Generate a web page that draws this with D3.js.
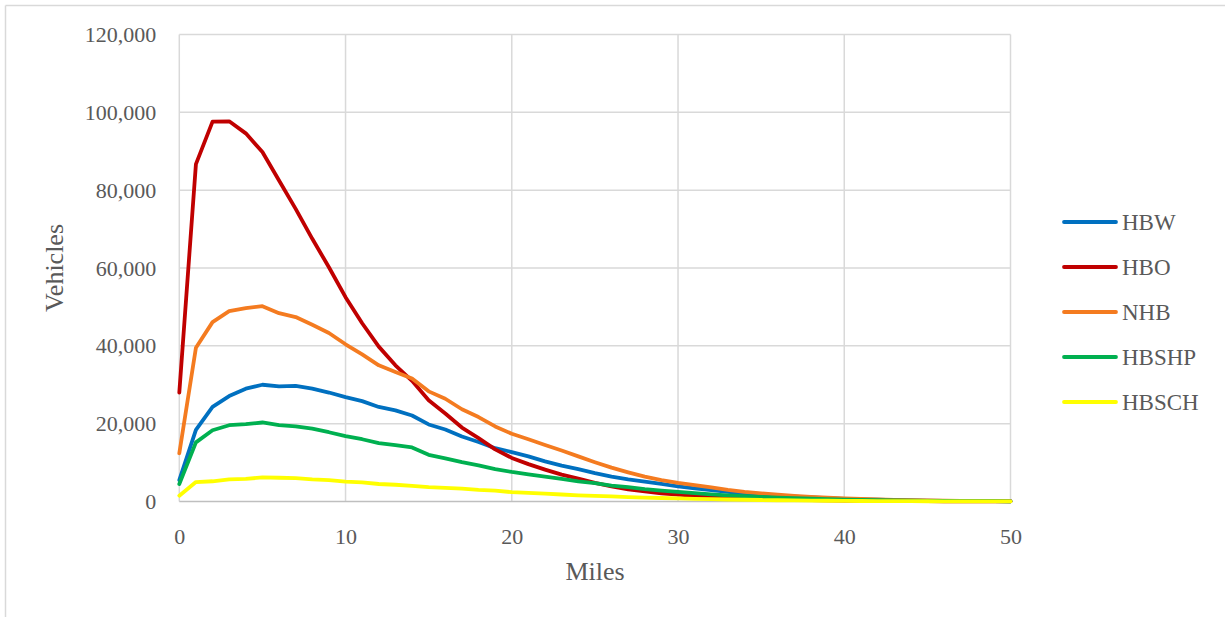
<!DOCTYPE html>
<html>
<head>
<meta charset="utf-8">
<script src="https://cdn.jsdelivr.net/npm/d3@7/dist/d3.min.js"></script>
<style>
  html, body { margin: 0; padding: 0; background: #fff; }
  svg { display: block; }
  text { font-family: "Liberation Serif", "DejaVu Serif", serif; fill: #595959; }
</style>
</head>
<body>
<svg id="chart" width="1225" height="617"></svg>
<script>
// Trip length distribution by purpose, vehicles per mile bin
const miles = d3.range(0, 51);
const seriesNames = ["HBW", "HBO", "NHB", "HBSHP", "HBSCH"];
const seriesColors = ["#0070C0", "#C00000", "#F47B20", "#00B050", "#FFFF00"];

const hbw = [5500, 18400, 24300, 27100, 29000, 30000, 29600, 29700, 29000, 28000,
  26800, 25800, 24300, 23400, 22100, 19800, 18500, 16700, 15300, 13700,
  12700, 11600, 10300, 9200, 8300, 7300, 6400, 5700, 5100, 4500,
  3900, 3400, 2900, 2500, 2100, 1800, 1500, 1250, 1050, 850,
  700, 550, 450, 350, 280, 220, 170, 130, 100, 80, 60];
const hbo = [28000, 86700, 97600, 97700, 94600, 89800, 82500, 75200, 67500, 60200,
  52500, 45800, 39800, 35000, 31000, 26000, 22600, 19000, 16300, 13400,
  11200, 9600, 8200, 6900, 5900, 4800, 3900, 3100, 2600, 2100,
  1750, 1450, 1200, 1000, 820, 680, 560, 460, 380, 310,
  250, 200, 160, 130, 105, 85, 70, 60, 50, 45, 40];
const nhb = [12400, 39500, 46100, 48900, 49700, 50200, 48400, 47400, 45400, 43300,
  40400, 37800, 35000, 33300, 31600, 28300, 26400, 23700, 21700, 19300,
  17400, 16000, 14500, 13100, 11600, 10100, 8700, 7500, 6400, 5500,
  4800, 4200, 3600, 3000, 2500, 2100, 1750, 1450, 1200, 1000,
  800, 650, 520, 420, 340, 270, 210, 170, 130, 100, 80];
const hbshp = [4500, 15200, 18300, 19600, 19900, 20300, 19600, 19300, 18700, 17800,
  16800, 16000, 15000, 14500, 13900, 12000, 11100, 10100, 9300, 8300,
  7600, 7000, 6400, 5800, 5200, 4700, 4100, 3700, 3200, 2800,
  2450, 2150, 1850, 1600, 1380, 1180, 1000, 850, 720, 600,
  500, 410, 340, 280, 230, 185, 150, 120, 95, 75, 55];
const hbsch = [1500, 5000, 5200, 5700, 5800, 6200, 6100, 6000, 5700, 5500,
  5100, 4900, 4500, 4300, 4000, 3700, 3500, 3300, 3000, 2800,
  2400, 2200, 2000, 1800, 1600, 1450, 1300, 1150, 1000, 900,
  800, 700, 600, 520, 450, 380, 320, 270, 230, 190,
  160, 130, 110, 90, 75, 60, 50, 40, 35, 30, 25];
const seriesValues = [hbw, hbo, nhb, hbshp, hbsch];

const xTicks = [0, 10, 20, 30, 40, 50];
const yTicks = [0, 20000, 40000, 60000, 80000, 100000, 120000];

const svg = d3.select("#chart");
const W = 1225, H = 617;
const plot = { left: 179.3, right: 1010.5, top: 34.5, bottom: 501.5 };

// outer chart frame (top and left edges)
svg.append("line").attr("x1", 5.5).attr("x2", W).attr("y1", 5.5).attr("y2", 5.5)
  .attr("stroke", "#d9d9d9").attr("stroke-width", 1.5);
svg.append("line").attr("x1", 5.5).attr("x2", 5.5).attr("y1", 5.5).attr("y2", H)
  .attr("stroke", "#d9d9d9").attr("stroke-width", 1.5);

const x = d3.scaleLinear().domain([0, 50]).range([plot.left, plot.right]);
const y = d3.scaleLinear().domain([0, 120000]).range([plot.bottom, plot.top]);

// gridlines
const grid = svg.append("g");
grid.selectAll("line.h").data(yTicks.filter(d => d > 0)).join("line")
  .attr("x1", plot.left).attr("x2", plot.right)
  .attr("y1", d => y(d)).attr("y2", d => y(d))
  .attr("stroke", "#d9d9d9").attr("stroke-width", 1.5);
grid.selectAll("line.v").data(xTicks).join("line")
  .attr("x1", d => x(d)).attr("x2", d => x(d))
  .attr("y1", plot.top).attr("y2", plot.bottom)
  .attr("stroke", "#d9d9d9").attr("stroke-width", 1.5);

// x axis line
svg.append("line").attr("x1", plot.left).attr("x2", plot.right)
  .attr("y1", plot.bottom).attr("y2", plot.bottom)
  .attr("stroke", "#bfbfbf").attr("stroke-width", 1.5);

// y axis
const yAxis = d3.axisLeft(y).tickValues(yTicks).tickSize(0).tickPadding(23)
  .tickFormat(d3.format(","));
const gy = svg.append("g").attr("transform", `translate(${plot.left},0)`).call(yAxis);
gy.select(".domain").remove();
gy.selectAll("text").attr("font-size", 22).attr("fill", "#595959")
  .style("font-family", "'Liberation Serif', serif");

// x axis
const xAxis = d3.axisBottom(x).tickValues(xTicks).tickSize(0).tickPadding(27)
  .tickFormat(d3.format("d"));
const gx = svg.append("g").attr("transform", `translate(0,${plot.bottom})`).call(xAxis);
gx.select(".domain").remove();
gx.selectAll("text").attr("font-size", 22).attr("fill", "#595959")
  .style("font-family", "'Liberation Serif', serif");

// axis titles
svg.append("text").attr("x", 595).attr("y", 580).attr("text-anchor", "middle")
  .attr("font-size", 26).text("Miles");
svg.append("text").attr("transform", "translate(63,268) rotate(-90)")
  .attr("text-anchor", "middle").attr("font-size", 26).text("Vehicles");

// series lines
const line = d3.line().x((d, i) => x(miles[i])).y(d => y(d));
svg.append("g").selectAll("path").data(seriesValues).join("path")
  .attr("d", d => line(d))
  .attr("fill", "none")
  .attr("stroke", (d, i) => seriesColors[i])
  .attr("stroke-width", 3.8)
  .attr("stroke-linejoin", "round")
  .attr("stroke-linecap", "round");

// legend
const legend = svg.append("g");
const legendY = [222, 267, 312, 357, 402];
seriesNames.forEach((name, i) => {
  legend.append("line").attr("x1", 1064).attr("x2", 1116)
    .attr("y1", legendY[i]).attr("y2", legendY[i])
    .attr("stroke", seriesColors[i]).attr("stroke-width", 3.8)
    .attr("stroke-linecap", "round");
  legend.append("text").attr("x", 1122).attr("y", legendY[i])
    .attr("dy", "0.35em").attr("font-size", 23).text(name);
});
</script>
</body>
</html>
